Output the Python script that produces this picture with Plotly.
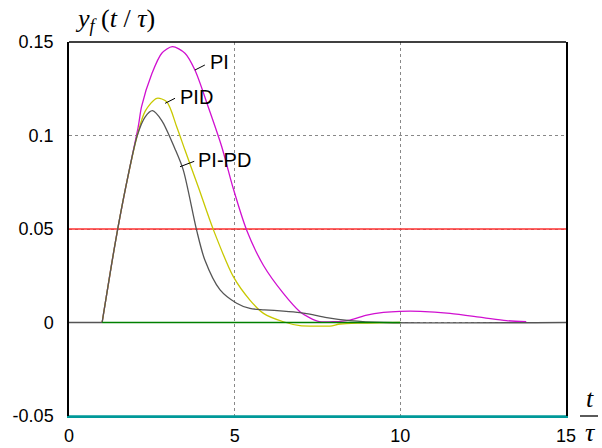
import plotly.graph_objects as go

# Data
t_rise = [0, 1.0]
y_rise = [0, 0.0]

t_pi = [1.0, 1.4, 1.72, 2.09, 2.19, 2.5, 2.8, 3.12, 3.5, 3.8, 4.2, 4.61, 4.96, 5.36, 5.87, 6.47, 6.97, 7.27, 7.55, 7.98, 8.48, 8.99, 9.49, 9.99, 10.6, 11.5, 12.5, 13.2, 13.8]
y_pi = [0.0, 0.043, 0.073, 0.1047, 0.1154, 0.133, 0.144, 0.1475, 0.144, 0.135, 0.1154, 0.094, 0.0715, 0.0495, 0.0305, 0.0156, 0.0058, 0.0025, 0.0005, 0.0004, 0.0013, 0.004, 0.0054, 0.006, 0.006, 0.0049, 0.0026, 0.001, 0.0004]

t_pid = [1.0, 1.4, 1.72, 2.06, 2.3, 2.65, 2.95, 3.25, 3.5, 3.9, 4.36, 4.96, 5.46, 5.87, 6.47, 6.97, 7.4, 7.88, 8.18, 8.8, 9.49, 10.0]
y_pid = [0.0, 0.043, 0.073, 0.100, 0.113, 0.1199, 0.118, 0.1047, 0.0922, 0.0726, 0.0495, 0.0245, 0.012, 0.0049, 0.0004, -0.0017, -0.0019, -0.0019, -0.0008, -0.0003, -0.0001, 0.0]

t_pipd = [1.0, 1.4, 1.72, 2.06, 2.3, 2.52, 2.8, 3.2, 3.45, 3.85, 4.1, 4.56, 5.06, 5.46, 5.9, 6.47, 6.97, 7.27, 7.78, 8.48, 9.5, 15.0]
y_pipd = [0.0, 0.043, 0.073, 0.100, 0.110, 0.1133, 0.108, 0.0928, 0.0815, 0.0495, 0.0334, 0.0174, 0.0103, 0.0075, 0.0068, 0.0061, 0.0053, 0.0045, 0.0026, 0.001, 0.0, 0.0]

ref_t = [0, 15]
ref_upper = [0.05, 0.05]
ref_lower = [-0.05, -0.05]
zero_t = [1, 10]
zero_y = [0, 0]

x_ticks = [0, 5, 10, 15]
y_ticks = [-0.05, 0, 0.05, 0.1, 0.15]
y_ticktext = ["-0.05", "0", "0.05", "0.1", "0.15"]

labels = [
    # text, text-anchor (t, y), leader from (t, y) to (t, y)
    ("PI", 4.18, 0.1393, 3.80, 0.1350, 4.10, 0.1377),
    ("PID", 3.30, 0.1206, 2.90, 0.1172, 3.20, 0.1199),
    ("PI-PD", 3.84, 0.0869, 3.35, 0.0833, 3.78, 0.0862),
]

TEAL = "#009999"

fig = go.Figure()
fig.add_trace(go.Scatter(x=ref_t, y=ref_upper, mode="lines",
                         line=dict(color="#ff3030", width=1.5), hoverinfo="skip"))
fig.add_trace(go.Scatter(x=t_pi, y=y_pi, mode="lines",
                         line=dict(color="#d010d0", width=1.3, shape="spline", smoothing=0.8),
                         hoverinfo="skip"))
fig.add_trace(go.Scatter(x=t_pid, y=y_pid, mode="lines",
                         line=dict(color="#c8c800", width=1.3, shape="spline", smoothing=0.8),
                         hoverinfo="skip"))
fig.add_trace(go.Scatter(x=t_pipd, y=y_pipd, mode="lines",
                         line=dict(color="#555555", width=1.3, shape="spline", smoothing=0.8),
                         hoverinfo="skip"))
fig.add_trace(go.Scatter(x=t_rise, y=y_rise, mode="lines",
                         line=dict(color="#555555", width=1.3), hoverinfo="skip"))
fig.add_trace(go.Scatter(x=zero_t, y=zero_y, mode="lines",
                         line=dict(color="#008000", width=1.5), hoverinfo="skip"))
fig.add_trace(go.Scatter(x=ref_t, y=ref_lower, mode="lines",
                         line=dict(color=TEAL, width=1.5), hoverinfo="skip"))

for txt, tx, ty, x0, y0, x1, y1 in labels:
    fig.add_trace(go.Scatter(x=[x0, x1], y=[y0, y1], mode="lines",
                             line=dict(color="black", width=1), hoverinfo="skip"))
    fig.add_annotation(x=tx, y=ty, text=txt, showarrow=False, xanchor="left",
                       yanchor="middle",
                       font=dict(family="Liberation Sans, Arial", size=20, color="black"))

# axis titles
fig.add_annotation(xref="paper", yref="paper", x=0.008, y=1.0, yshift=22,
                   xanchor="left", yanchor="middle", showarrow=False,
                   text="<i>y</i><sub><i>f</i></sub> (<i>t</i> / <i>τ</i>)",
                   font=dict(family="Liberation Serif, Times New Roman", size=26, color="black"))
fig.add_annotation(xref="paper", yref="paper", x=1.0, y=0.0, xshift=24, yshift=18,
                   xanchor="center", yanchor="middle", showarrow=False,
                   text="<i>t</i>",
                   font=dict(family="Liberation Serif, Times New Roman", size=26, color="black"))
fig.add_annotation(xref="paper", yref="paper", x=1.0, y=0.0, xshift=24, yshift=-16,
                   xanchor="center", yanchor="middle", showarrow=False,
                   text="<i>τ</i>",
                   font=dict(family="Liberation Serif, Times New Roman", size=26, color="black"))
fig.add_shape(type="line", xref="paper", yref="paper", x0=1 + 14/497, x1=1 + 32/497, y0=0, y1=0,
              line=dict(color="black", width=1.3))
# top frame
fig.add_shape(type="line", xref="paper", yref="paper", x0=0, x1=1, y0=1, y1=1,
              line=dict(color="black", width=1.5))

fig.update_layout(
    width=602, height=448,
    margin=dict(l=69, r=36, t=42, b=32, autoexpand=False),
    paper_bgcolor="white", plot_bgcolor="white",
    showlegend=False,
    font=dict(family="Liberation Sans, Arial", size=18, color="black"),
    xaxis=dict(range=[0, 15], tickvals=x_ticks, ticktext=[str(v) for v in x_ticks],
               showgrid=True, gridcolor="#888888", griddash="dot", gridwidth=1,
               showline=True, linecolor=TEAL, linewidth=1.5, mirror=False,
               zeroline=False, ticks="", ticklabelstandoff=3),
    yaxis=dict(range=[-0.05, 0.15], tickvals=y_ticks, ticktext=y_ticktext,
               showgrid=True, gridcolor="#888888", griddash="dot", gridwidth=1,
               showline=True, linecolor="black", linewidth=1.5, mirror=True,
               zeroline=False, ticks="", ticklabelstandoff=10),
)

fig.write_html("out.html")
